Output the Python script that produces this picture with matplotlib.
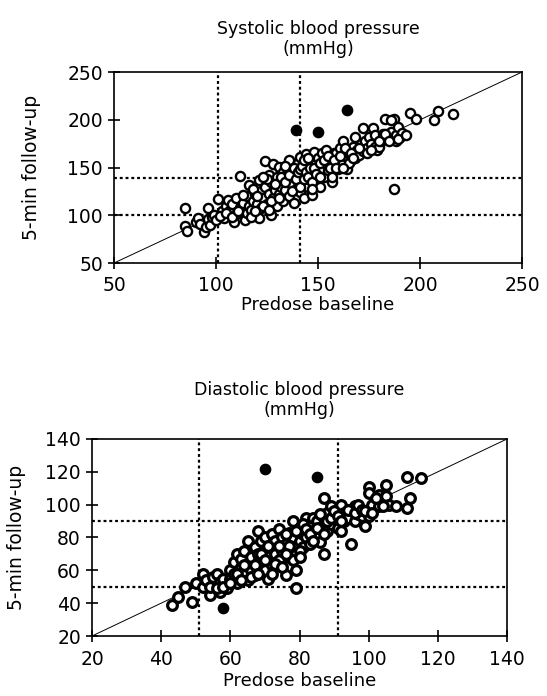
import numpy as np
import matplotlib.pyplot as plt

plt.rcParams["font.family"] = ["DejaVu Sans"]

# ---------------------------------------------------------------------------
# Data
# ---------------------------------------------------------------------------

# Systolic blood pressure (mmHg): predose baseline vs 5-min follow-up
sys_base = [
    85, 85, 86, 90, 91, 92, 94, 95, 96, 97, 98, 96, 99, 100, 101, 103, 104, 105, 106, 107,
    108, 109, 110, 110, 112, 112, 113, 114, 115, 115, 116, 116, 117, 118, 119, 120, 121, 121,
    122, 122, 123, 124, 124, 125, 126, 126, 127, 127, 128, 128, 129, 130, 130, 131, 131, 132,
    133, 133, 134, 135, 135, 136, 136, 137, 137, 138, 138, 139, 139, 140, 140, 141, 141, 142,
    142, 143, 143, 144, 144, 145, 145, 146, 146, 147, 147, 148, 148, 149, 150, 150, 151, 152,
    152, 153, 154, 154, 155, 156, 157, 157, 158, 159, 160, 160, 161, 162, 162, 163, 164, 165,
    166, 167, 168, 168, 169, 170, 171, 172, 172, 173, 174, 175, 176, 177, 178, 178, 179, 180,
    181, 182, 183, 184, 186, 187, 188, 188, 189, 190, 191, 195, 198, 207, 209, 216, 187,
    118, 120, 123, 125, 127, 129, 131, 132, 134, 134, 136, 137, 138, 139, 140, 141, 141, 142,
    143, 143, 144, 145, 145, 146, 147, 148, 149, 151, 153, 155, 156, 158, 159, 161, 163, 165,
    166, 167, 170, 174, 176, 180, 183, 185, 186, 189, 193, 102, 105, 108, 111, 113, 117, 119,
    123, 126, 147, 151, 157, 162,
]
sys_follow = [
    108, 89, 84, 93, 97, 91, 82, 88, 96, 90, 98, 108, 100, 95, 117, 104, 97, 110, 116, 105,
    112, 93, 118, 101, 108, 141, 113, 95, 102, 120, 132, 110, 106, 115, 122, 112, 97, 137,
    125, 108, 118, 157, 130, 112, 122, 142, 100, 135, 154, 118, 126, 110, 140, 151, 122, 130,
    145, 115, 126, 138, 150, 158, 120, 132, 145, 113, 140, 128, 150, 136, 155, 161, 124, 142,
    132, 148, 118, 164, 138, 152, 130, 142, 158, 121, 148, 166, 137, 155, 145, 160, 130, 150,
    165, 140, 168, 155, 147, 160, 135, 152, 165, 165, 148, 158, 170, 178, 155, 162, 148, 165,
    158, 172, 182, 160, 168, 163, 175, 191, 167, 178, 170, 182, 175, 191, 184, 172, 168, 172,
    178, 185, 201, 180, 187, 201, 184, 178, 192, 182, 186, 207, 201, 200, 209, 206, 127,
    128, 120, 110, 138, 115, 133, 118, 140, 135, 152, 142, 125, 150, 138, 145, 130, 148, 152,
    138, 158, 145, 140, 160, 150, 135, 150, 143, 155, 158, 162, 150, 158, 150, 162, 170, 155,
    165, 160, 170, 165, 168, 178, 185, 178, 200, 180, 184, 99, 102, 98, 104, 121, 98, 104,
    140, 105, 128, 140, 140, 150,
]
sys_out_base = [139, 150, 164]
sys_out_follow = [189, 187, 210]

# Diastolic blood pressure (mmHg)
dia_base = [
    43, 45, 49, 47, 50, 52, 52, 53, 54, 55, 55, 56, 57, 57, 58, 59, 60, 60, 61, 61, 62, 62,
    63, 63, 64, 64, 65, 65, 65, 66, 66, 67, 67, 68, 68, 68, 69, 69, 70, 70, 70, 71, 71, 72,
    72, 72, 73, 73, 74, 74, 75, 75, 76, 76, 77, 77, 78, 78, 78, 79, 79, 79, 80, 80, 81, 81,
    82, 82, 83, 83, 84, 84, 85, 85, 86, 86, 87, 87, 87, 88, 88, 89, 89, 90, 91, 92, 92, 93,
    93, 94, 95, 95, 96, 96, 97, 98, 99, 100, 100, 100, 101, 103, 103, 105, 105, 106, 108,
    111, 111, 112, 115,
    54, 56, 58, 60, 62, 63, 64, 66, 67, 68, 69, 70, 71, 72, 73, 74, 75, 76, 77, 78, 79, 80,
    81, 82, 83, 84, 85, 86, 87, 88, 89, 90, 91, 92, 94, 96, 97, 98, 99, 101, 102, 104, 80, 76,
]
dia_follow = [
    39, 44, 41, 50, 52, 58, 50, 54, 45, 51, 56, 58, 47, 53, 55, 49, 60, 55, 65, 58, 70, 52,
    62, 67, 57, 72, 78, 54, 63, 68, 60, 74, 57, 65, 84, 70, 78, 62, 60, 72, 80, 55, 68, 82,
    75, 63, 78, 70, 66, 85, 72, 80, 57, 76, 83, 68, 90, 74, 80, 60, 49, 70, 78, 86, 74, 82,
    92, 80, 76, 88, 92, 84, 80, 90, 77, 86, 70, 104, 92, 84, 95, 99, 88, 92, 86, 100, 84, 95,
    90, 92, 76, 97, 99, 90, 94, 93, 87, 111, 107, 93, 100, 106, 99, 112, 105, 100, 99,
    117, 98, 104, 116,
    50, 49, 50, 52, 58, 54, 63, 56, 63, 58, 70, 66, 75, 58, 64, 75, 62, 82, 75, 66, 84, 72,
    88, 85, 82, 78, 86, 94, 82, 90, 92, 96, 93, 90, 97, 95, 100, 97, 96, 95, 104, 99, 68, 70,
]
dia_out_base = [70, 85, 58]
dia_out_follow = [122, 117, 37]

SYS_LIMITS = (50, 250)
SYS_REF = (101, 141)       # vertical reference lines (baseline)
SYS_REF_Y = (100, 139)     # horizontal reference lines (follow-up)
DIA_LIMITS = (20, 140)
DIA_REF = (51, 91)
DIA_REF_Y = (90, 50)


def draw_panel(ax, base, follow, out_base, out_follow, limits, ref_x, ref_y, ticks, title,
               ms, mew, title_pad, tick_pad, xlabel_pad, ylabel_pad):
    lo, hi = limits
    ax.plot([lo, hi], [lo, hi], color="black", lw=0.7, zorder=1)
    for v in ref_x:
        ax.axvline(v, color="black", lw=1.6, ls=(0, (1.3, 1.3)), zorder=1)
    for v in ref_y:
        ax.axhline(v, color="black", lw=1.6, ls=(0, (1.3, 1.3)), zorder=1)

    ax.plot(base, follow, "o", ms=ms, mfc="white", mec="black", mew=mew, zorder=3)
    ax.plot(out_base, out_follow, "o", ms=7.4, mfc="black", mec="black", zorder=4)

    ax.set_xlim(lo, hi)
    ax.set_ylim(lo, hi)
    ax.set_xticks(ticks)
    ax.set_yticks(ticks)
    ax.tick_params(direction="inout", length=8, width=1.2, labelsize=13.5, pad=4)
    ax.tick_params(axis="x", pad=tick_pad)
    for s in ax.spines.values():
        s.set_linewidth(1.2)
    ax.set_title(title, fontsize=12.5, linespacing=1.15, pad=title_pad)
    ax.set_xlabel("Predose baseline", fontsize=13, labelpad=xlabel_pad)
    ax.set_ylabel("5-min follow-up", fontsize=13.5, labelpad=ylabel_pad)


fig = plt.figure(figsize=(5.47, 6.96), dpi=100)

ax1 = fig.add_axes([0.2084, 0.6221, 0.746, 0.2744])
draw_panel(ax1, sys_base, sys_follow, sys_out_base, sys_out_follow, SYS_LIMITS,
           SYS_REF, SYS_REF_Y, np.arange(50, 251, 50),
           "Systolic blood pressure\n(mmHg)", 6.6, 1.7,
           title_pad=13, tick_pad=5, xlabel_pad=1, ylabel_pad=19)

ax2 = fig.add_axes([0.1682, 0.0862, 0.7587, 0.2831])
draw_panel(ax2, dia_base, dia_follow, dia_out_base, dia_out_follow, DIA_LIMITS,
           DIA_REF, DIA_REF_Y, np.arange(20, 141, 20),
           "Diastolic blood pressure\n(mmHg)", 7.0, 2.3,
           title_pad=17, tick_pad=6, xlabel_pad=2, ylabel_pad=14)

fig.savefig("out.png", dpi=100)
